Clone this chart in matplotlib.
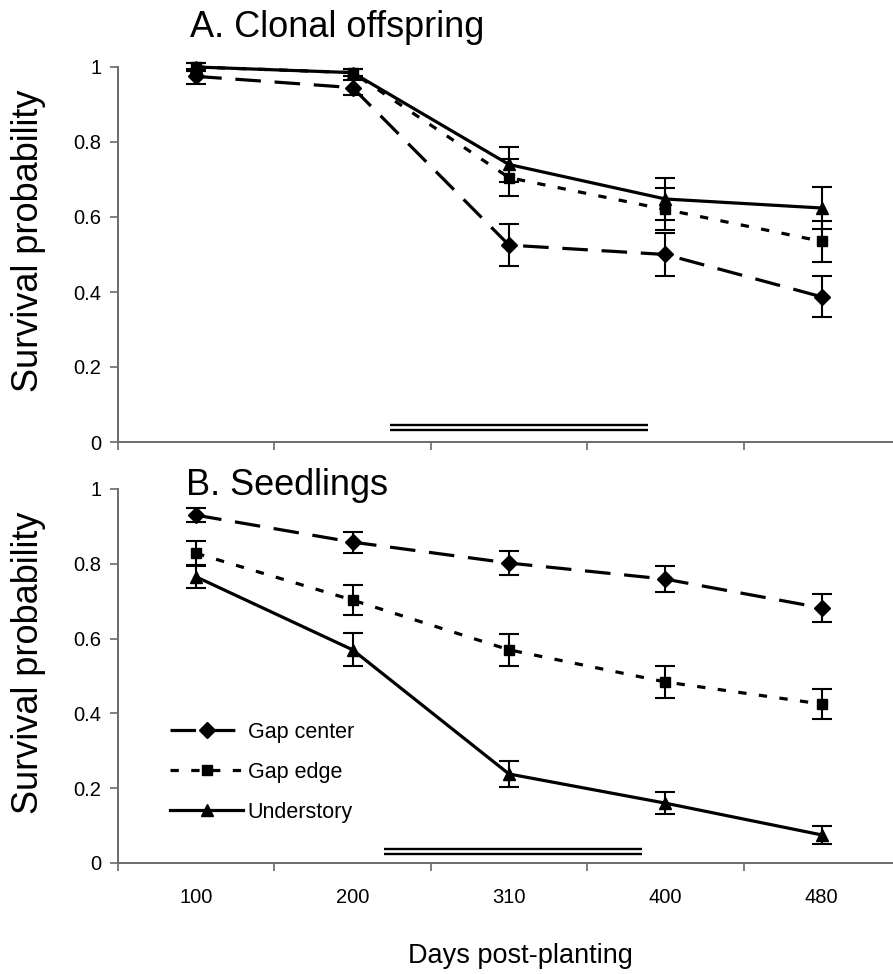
import numpy as np
import matplotlib
matplotlib.use("Agg")
import matplotlib.pyplot as plt
from matplotlib.ticker import FixedLocator, NullFormatter, FixedFormatter

plt.rcParams['font.family'] = ['Liberation Sans', 'DejaVu Sans']

# data
days = ['100', '200', '310', '400', '480']
groups = ['Gap center', 'Gap edge', 'Understory']

clonal_center = [0.975, 0.945, 0.525, 0.500, 0.387]
clonal_center_err = [0.020, 0.020, 0.057, 0.058, 0.055]
clonal_edge = [1.000, 0.985, 0.705, 0.620, 0.535]
clonal_edge_err = [0.010, 0.010, 0.050, 0.056, 0.055]
clonal_under = [1.000, 0.985, 0.740, 0.648, 0.624]
clonal_under_err = [0.010, 0.010, 0.047, 0.055, 0.055]

seed_center = [0.930, 0.858, 0.802, 0.759, 0.682]
seed_center_err = [0.018, 0.028, 0.031, 0.035, 0.037]
seed_edge = [0.828, 0.703, 0.570, 0.484, 0.425]
seed_edge_err = [0.032, 0.040, 0.043, 0.043, 0.040]
seed_under = [0.765, 0.570, 0.238, 0.160, 0.075]
seed_under_err = [0.030, 0.044, 0.036, 0.030, 0.024]

# double bar (category units) under each panel
bar_top_x = [1.74, 3.39]
bar_top_y = [0.045, 0.032]
bar_bot_x = [1.70, 3.35]
bar_bot_y = [0.037, 0.024]

W, H = 893, 974
fig = plt.figure(figsize=(W / 100, H / 100), dpi=100)

styles = [
    dict(marker='D', ms=8, dashes=(8.0, 4.3)),
    dict(marker='s', ms=7.5, dashes=(2.6, 3.9)),
    dict(marker='^', ms=9, dashes=None),
]
axcol = '#6a6a6a'


def make_panel(rect, series, errs, bar_y, bar_x, title, title_xy, show_x):
    ax = fig.add_axes(rect)
    x = np.arange(len(days)) + 0.5
    handles = []
    for yv, ev, st, lab in zip(series, errs, styles, groups):
        ax.errorbar(x, yv, yerr=ev, fmt='none', ecolor='black', elinewidth=1.5,
                    capsize=7, capthick=1.5, clip_on=False, zorder=3)
        ln, = ax.plot(x, yv, color='black', lw=2.3, marker=st['marker'],
                      ms=st['ms'], mfc='black', mec='black', clip_on=False,
                      label=lab, zorder=4)
        if st['dashes'] is not None:
            ln.set_dashes(st['dashes'])
        handles.append(ln)
    for yy in bar_y:
        ax.plot(bar_x, [yy, yy], color='black', lw=1.7, solid_capstyle='butt')
    ax.set_xlim(0, len(days))
    ax.set_ylim(0, 1)
    ax.set_yticks([0, 0.2, 0.4, 0.6, 0.8, 1.0])
    ax.set_yticklabels(['0', '0.2', '0.4', '0.6', '0.8', '1'])
    ax.xaxis.set_major_locator(FixedLocator(np.arange(len(days) + 1)))
    ax.xaxis.set_major_formatter(NullFormatter())
    ax.xaxis.set_minor_locator(FixedLocator(x))
    if show_x:
        ax.xaxis.set_minor_formatter(FixedFormatter(days))
    else:
        ax.xaxis.set_minor_formatter(NullFormatter())
    ax.tick_params(axis='x', which='minor', length=0, pad=18, labelsize=14.5)
    ax.tick_params(axis='both', which='major', length=6, width=1.2,
                   color=axcol, labelsize=14.5, pad=6)
    for s in ['top', 'right']:
        ax.spines[s].set_visible(False)
    for s in ['left', 'bottom']:
        ax.spines[s].set_color(axcol)
        ax.spines[s].set_linewidth(1.4)
    fig.text(title_xy[0] / W, 1 - title_xy[1] / H, title, fontsize=26,
             va='baseline', ha='left')
    return ax, handles


left = 118 / W
width = 782 / W
ax1, _ = make_panel([left, 1 - 442 / H, width, 375 / H],
                    [clonal_center, clonal_edge, clonal_under],
                    [clonal_center_err, clonal_edge_err, clonal_under_err],
                    bar_top_y, bar_top_x, 'A. Clonal offspring', (190, 37), False)
ax2, handles = make_panel([left, 1 - 863 / H, width, 374 / H],
                          [seed_center, seed_edge, seed_under],
                          [seed_center_err, seed_edge_err, seed_under_err],
                          bar_bot_y, bar_bot_x, 'B. Seedlings', (186, 495), True)

ax2.legend(handles=handles, loc='upper left',
           bbox_to_anchor=(170 / W, 1 - 722 / H), bbox_transform=fig.transFigure,
           frameon=False, fontsize=15.5, handlelength=3.4, handletextpad=0.2,
           labelspacing=0.88, borderpad=0, borderaxespad=0, numpoints=1)

for yc in (241, 663):
    fig.text(29 / W, 1 - yc / H, 'Survival probability', rotation=90,
             fontsize=26, ha='center', va='center')

fig.text(520 / W, 1 - 963 / H, 'Days post-planting', fontsize=19.5,
         ha='center', va='baseline')

fig.savefig('out.png', dpi=100)
